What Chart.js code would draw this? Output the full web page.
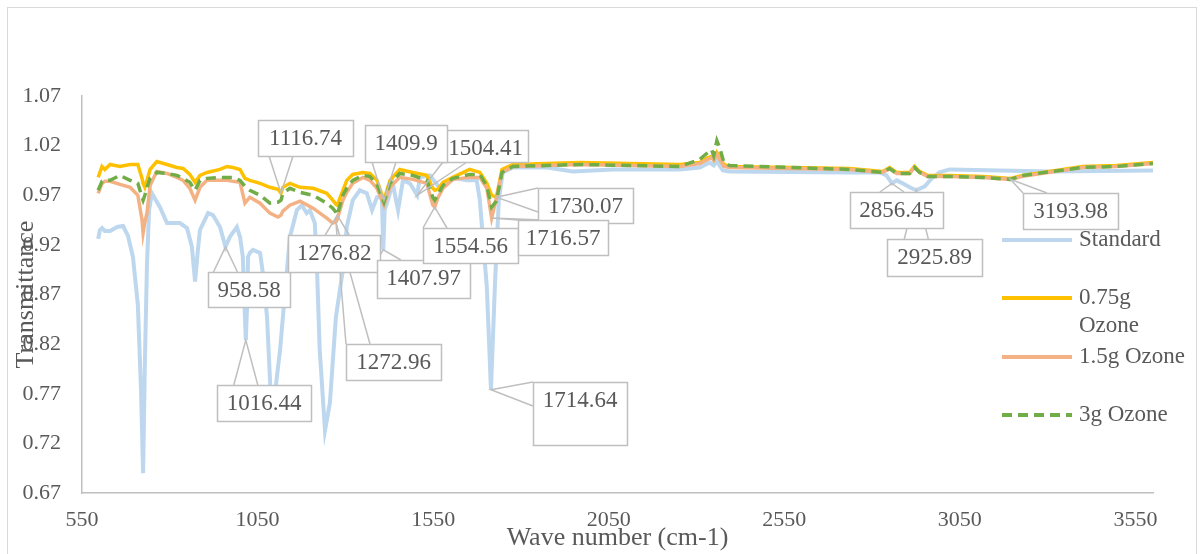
<!DOCTYPE html>
<html>
<head>
<meta charset="utf-8">
<script src="https://cdn.jsdelivr.net/npm/chart.js@4.4.0/dist/chart.umd.min.js"></script>
<style>
  html, body { margin: 0; padding: 0; background: #fff; }
  #wrap { position: relative; width: 1204px; height: 554px; }
</style>
</head>
<body>
<div id="wrap"><canvas id="ftirChart"></canvas></div>
<script>
// axis ticks
const xTicks = [550, 1050, 1550, 2050, 2550, 3050, 3550];
const yTicks = [0.67, 0.72, 0.77, 0.82, 0.87, 0.92, 0.97, 1.02, 1.07];
const seriesNames = ['Standard', '0.75g Ozone', '1.5g Ozone', '3g Ozone'];

// Standard spectrum
const waveStandard = [
  596, 601, 607, 615, 630, 650, 667, 681, 695, 709,
  718, 724, 729, 735, 741, 749, 772, 792, 809, 829,
  849, 863, 872, 880, 886, 909, 923, 943, 958.58, 971,
  991, 1000, 1008, 1016.44, 1020, 1023, 1028, 1037, 1057, 1065,
  1077, 1091, 1105, 1114, 1122, 1142, 1162, 1176, 1190, 1199,
  1213, 1219, 1227, 1242, 1256, 1273, 1293, 1304, 1321, 1341,
  1361, 1376, 1390, 1404, 1407.97, 1412, 1421, 1435, 1450, 1464,
  1484, 1504.41, 1512, 1541, 1569, 1598, 1617, 1646, 1674, 1683,
  1692, 1703, 1714.64, 1726, 1737, 1748, 1777, 1874, 1948, 2062,
  2252, 2309, 2338, 2349, 2358, 2375, 2394, 2736, 2822, 2841,
  2856.45, 2870, 2887, 2907, 2925.89, 2950, 2970, 2992, 3021, 3306,
  3600
];
const standard = [
  0.926, 0.935, 0.937, 0.934, 0.934, 0.938, 0.939, 0.929, 0.908, 0.860,
  0.775, 0.690, 0.800, 0.900, 0.955, 0.972, 0.958, 0.942, 0.942, 0.942,
  0.937, 0.918, 0.883, 0.915, 0.935, 0.952, 0.950, 0.938, 0.918, 0.928,
  0.938, 0.928, 0.908, 0.824, 0.857, 0.908, 0.912, 0.915, 0.912, 0.892,
  0.847, 0.742, 0.787, 0.814, 0.847, 0.928, 0.955, 0.960, 0.952, 0.955,
  0.942, 0.898, 0.814, 0.733, 0.761, 0.847, 0.895, 0.938, 0.965, 0.975,
  0.972, 0.955, 0.968, 0.968, 0.915, 0.955, 0.965, 0.982, 0.955, 0.985,
  0.982, 0.970, 0.988, 0.990, 0.977, 0.985, 0.987, 0.985, 0.985, 0.965,
  0.925, 0.877, 0.774, 0.880, 0.965, 0.993, 0.998, 0.998, 0.994, 0.996,
  0.996, 0.998, 1.003, 1.000, 1.004, 0.995, 0.994, 0.993, 0.993, 0.990,
  0.982, 0.985, 0.982, 0.978, 0.975, 0.979, 0.987, 0.993, 0.996, 0.994,
  0.995
];

// ozone treated samples share one wave number grid
const waveOzone = [
  596, 607, 615, 630, 658, 687, 709, 721, 724, 729,
  735, 744, 763, 792, 820, 838, 857, 872, 886, 906,
  943, 963, 980, 1000, 1014, 1028, 1057, 1085, 1108, 1116.74,
  1122, 1142, 1171, 1208, 1247, 1264, 1272.96, 1276.82, 1293, 1304,
  1321, 1350, 1370, 1390, 1409.9, 1427, 1455, 1492, 1532, 1549,
  1554.56, 1563, 1578, 1606, 1654, 1683, 1703, 1716.57, 1730.07, 1746,
  1777, 1968, 2252, 2309, 2332, 2343, 2349, 2358, 2366, 2378,
  2394, 2736, 2830, 2850, 2870, 2907, 2921, 2935, 2958, 3021,
  3115, 3193.98, 3229, 3399, 3496, 3600
];
const ozone075 = [
  0.988, 0.999, 0.996, 1.001, 0.999, 1.001, 1.001, 0.987, 0.982, 0.978,
  0.985, 0.996, 1.004, 1.001, 0.998, 0.997, 0.991, 0.983, 0.990, 0.993,
  0.996, 0.999, 0.998, 0.996, 0.987, 0.985, 0.982, 0.978, 0.976, 0.972,
  0.978, 0.982, 0.978, 0.977, 0.972, 0.965, 0.961, 0.960, 0.975, 0.985,
  0.991, 0.993, 0.992, 0.985, 0.965, 0.985, 0.996, 0.993, 0.990, 0.977,
  0.975, 0.976, 0.983, 0.988, 0.996, 0.993, 0.982, 0.970, 0.968, 0.996,
  1.001, 1.003, 1.001, 1.003, 1.008, 1.009, 1.006, 1.013, 1.008, 1.001,
  0.999, 0.997, 0.994, 0.998, 0.993, 0.993, 0.999, 0.994, 0.990, 0.990,
  0.989, 0.987, 0.990, 0.999, 1.000, 1.003
];
const ozone15 = [
  0.972, 0.982, 0.984, 0.984, 0.981, 0.978, 0.970, 0.945, 0.932, 0.943,
  0.952, 0.980, 0.994, 0.992, 0.988, 0.985, 0.977, 0.965, 0.978, 0.985,
  0.985, 0.985, 0.984, 0.983, 0.962, 0.968, 0.962, 0.952, 0.948, 0.950,
  0.954, 0.960, 0.964, 0.957, 0.947, 0.942, 0.943, 0.946, 0.965, 0.973,
  0.982, 0.988, 0.985, 0.977, 0.960, 0.978, 0.988, 0.986, 0.982, 0.960,
  0.958, 0.967, 0.977, 0.986, 0.988, 0.988, 0.977, 0.947, 0.967, 0.993,
  0.999, 1.001, 0.999, 1.002, 1.006, 1.008, 1.005, 1.011, 1.006, 0.999,
  0.998, 0.996, 0.993, 0.997, 0.992, 0.992, 0.998, 0.993, 0.989, 0.989,
  0.988, 0.986, 0.989, 0.998, 0.999, 1.002
];
const ozone3 = [
  0.975, 0.984, 0.985, 0.985, 0.990, 0.985, 0.982, 0.968, 0.965, 0.970,
  0.978, 0.987, 0.993, 0.992, 0.990, 0.987, 0.983, 0.975, 0.985, 0.987,
  0.988, 0.988, 0.988, 0.985, 0.979, 0.975, 0.970, 0.962, 0.963, 0.965,
  0.972, 0.977, 0.973, 0.970, 0.962, 0.957, 0.953, 0.950, 0.970, 0.977,
  0.985, 0.990, 0.989, 0.981, 0.963, 0.982, 0.992, 0.990, 0.985, 0.968,
  0.965, 0.970, 0.980, 0.987, 0.991, 0.991, 0.979, 0.958, 0.964, 0.993,
  0.999, 1.001, 0.999, 1.006, 1.013, 1.016, 1.010, 1.025, 1.018, 1.003,
  1.000, 0.996, 0.993, 0.997, 0.992, 0.992, 0.998, 0.993, 0.989, 0.989,
  0.988, 0.986, 0.990, 0.998, 0.999, 1.002
];

// labelled peaks (wave number) and the series index they sit on
const peakWaves = [958.58, 1016.44, 1116.74, 1276.82, 1272.96, 1407.97, 1504.41, 1409.9,
                   1554.56, 1730.07, 1716.57, 1714.64, 2925.89, 2856.45, 3193.98];
const peakSeries = [0, 0, 1, 3, 2, 0, 0, 1, 2, 1, 2, 0, 0, 0, 3];

const FONT = '"Liberation Serif", "Times New Roman", serif';
const TEXT = '#595959';
const GREY = '#bfbfbf';

function pairs(xs, ys) {
  return xs.map((x, i) => ({ x: x, y: ys[i] }));
}

function clamp(v, lo, hi) { return Math.max(lo, Math.min(hi, v)); }

// two points on the box edge facing the tip (Excel style wedge callout)
function wedgeBase(b, tx, ty) {
  const half = 12;
  const [x, y, w, h] = b;
  if (ty < y) {
    const cx = clamp(tx, x + half, x + w - half);
    return [[cx - half, y], [cx + half, y]];
  }
  if (ty > y + h) {
    const cx = clamp(tx, x + half, x + w - half);
    return [[cx - half, y + h], [cx + half, y + h]];
  }
  const cy = clamp(ty, y + half, y + h - half);
  const ex = tx < x ? x : x + w;
  return [[ex, cy - half], [ex, cy + half]];
}

const frame = {
  id: 'frame',
  beforeDraw(chart) {
    const ctx = chart.ctx;
    ctx.save();
    ctx.fillStyle = '#fff';
    ctx.fillRect(0, 0, chart.width, chart.height);
    ctx.strokeStyle = '#d9d9d9';
    ctx.lineWidth = 1;
    ctx.strokeRect(7.5, 7.5, 1189, 560);
    ctx.restore();
  }
};

const peakLabels = {
  id: 'peakLabels',
  afterDatasetsDraw(chart, args, opts) {
    const ctx = chart.ctx;
    const xs = chart.scales.x, ys = chart.scales.y;
    const tips = peakWaves.map((w, i) => {
      const pt = chart.data.datasets[peakSeries[i]].data.find(p => p.x === w);
      return [xs.getPixelForValue(pt.x), ys.getPixelForValue(pt.y)];
    });
    ctx.save();
    ctx.strokeStyle = GREY;
    ctx.lineWidth = 1.5;
    opts.boxes.forEach((b, i) => {
      const [tx, ty] = tips[i];
      const base = wedgeBase(b, tx, ty);
      ctx.beginPath();
      ctx.moveTo(base[0][0], base[0][1]);
      ctx.lineTo(tx, ty);
      ctx.lineTo(base[1][0], base[1][1]);
      ctx.stroke();
    });
    ctx.font = '23px ' + FONT;
    ctx.textAlign = 'center';
    ctx.textBaseline = 'middle';
    opts.boxes.forEach((b, i) => {
      ctx.fillStyle = '#fff';
      ctx.fillRect(b[0], b[1], b[2], b[3]);
      ctx.strokeRect(b[0] + 0.5, b[1] + 0.5, b[2], b[3]);
      ctx.fillStyle = TEXT;
      ctx.fillText(String(peakWaves[i]), b[0] + b[2] / 2, b[1] + 18.5);
    });
    ctx.restore();
  }
};

const sideLegend = {
  id: 'sideLegend',
  afterDraw(chart, args, opts) {
    const ctx = chart.ctx;
    ctx.save();
    ctx.font = '23px ' + FONT;
    ctx.textAlign = 'left';
    ctx.textBaseline = 'middle';
    opts.rows.forEach((row, i) => {
      const ds = chart.data.datasets[i];
      ctx.strokeStyle = ds.borderColor;
      ctx.lineWidth = 4;
      ctx.setLineDash(ds.borderDash || []);
      ctx.beginPath();
      ctx.moveTo(opts.x0, row.y);
      ctx.lineTo(opts.x1, row.y);
      ctx.stroke();
      ctx.setLineDash([]);
      ctx.fillStyle = TEXT;
      row.lines.forEach((t, k) => ctx.fillText(t, opts.textX, row.y + k * 28));
    });
    ctx.restore();
  }
};

const ctx = document.getElementById('ftirChart').getContext('2d');

const myChart = new Chart(ctx, {
  type: 'line',
  data: {
    datasets: [
      {
        label: seriesNames[0],
        data: pairs(waveStandard, standard),
        borderColor: '#bdd7ee',
        borderWidth: 4,
        order: 3
      },
      {
        label: seriesNames[1],
        data: pairs(waveOzone, ozone075),
        borderColor: '#ffc000',
        borderWidth: 3.5,
        order: 2
      },
      {
        label: seriesNames[2],
        data: pairs(waveOzone, ozone15),
        borderColor: '#f4b183',
        borderWidth: 3.5,
        order: 1
      },
      {
        label: seriesNames[3],
        data: pairs(waveOzone, ozone3),
        borderColor: '#70ad47',
        borderWidth: 3.5,
        borderDash: [10, 6],
        order: 0
      }
    ]
  },
  options: {
    responsive: true,
    maintainAspectRatio: false,
    animation: false,
    devicePixelRatio: 1,
    elements: {
      point: { radius: 0 },
      line: { tension: 0, fill: false }
    },
    layout: {
      padding: { left: 0, top: 96, right: 51, bottom: 0 }
    },
    scales: {
      x: {
        type: 'linear',
        min: 550,
        max: 3600,
        afterBuildTicks: (scale) => { scale.ticks = xTicks.map(v => ({ value: v })); },
        afterFit: (scale) => { scale.height = 61; },
        grid: { display: false, drawTicks: false },
        border: { display: true, color: GREY, width: 1.5 },
        ticks: {
          color: TEXT,
          padding: 14,
          maxRotation: 0,
          font: { family: FONT, size: 22 },
          callback: (v) => String(v)
        },
        title: {
          display: true,
          text: 'Wave number (cm-1)',
          color: TEXT,
          padding: { top: 0, bottom: 0 },
          font: { family: FONT, size: 26 }
        }
      },
      y: {
        min: 0.67,
        max: 1.07,
        afterBuildTicks: (scale) => { scale.ticks = yTicks.map(v => ({ value: v })); },
        afterFit: (scale) => { scale.width = 82; },
        grid: { display: false, drawTicks: false },
        border: { display: true, color: GREY, width: 1.5 },
        ticks: {
          color: TEXT,
          padding: 21,
          font: { family: FONT, size: 22 },
          callback: (v) => Number(v).toFixed(2)
        },
        title: {
          display: true,
          text: 'Transmittance',
          color: TEXT,
          padding: { top: 11, bottom: 0 },
          font: { family: FONT, size: 26 }
        }
      }
    },
    plugins: {
      legend: { display: false },
      tooltip: { enabled: false },
      peakLabels: {
        boxes: [
          [208, 272, 82, 35], [217, 385, 94, 36], [258, 120, 95, 36], [288, 235, 92, 37],
          [346, 344, 95, 36], [377, 260, 93, 38], [443, 130, 85, 32], [365, 125, 82, 37],
          [423, 228, 95, 35], [538, 188, 95, 35], [518, 220, 90, 35], [533, 382, 94, 63],
          [887, 239, 95, 37], [850, 192, 93, 36], [1023, 193, 95, 36]
        ]
      },
      sideLegend: {
        x0: 1002, x1: 1072, textX: 1079,
        rows: [
          { y: 240, lines: ['Standard'] },
          { y: 298, lines: ['0.75g', 'Ozone'] },
          { y: 357, lines: ['1.5g Ozone'] },
          { y: 415, lines: ['3g Ozone'] }
        ]
      }
    }
  },
  plugins: [frame, peakLabels, sideLegend]
});
</script>
</body>
</html>
